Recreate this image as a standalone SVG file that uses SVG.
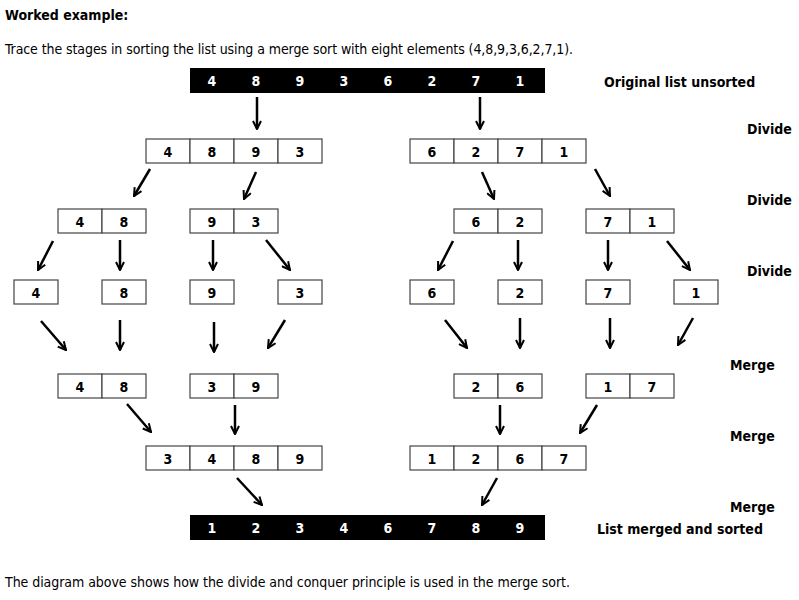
<svg xmlns="http://www.w3.org/2000/svg" width="799" height="600" viewBox="0 0 799 600">
<style>
text{font-family:"DejaVu Sans Condensed","DejaVu Sans",sans-serif;font-size:14px;fill:#000}
.b{font-weight:bold}
.n{font-weight:bold;text-anchor:middle}
.w{fill:#fff}
.c{fill:#fff;stroke:#444;stroke-width:1.2}
.a{stroke:#000;stroke-width:2.5;fill:none;marker-end:url(#h)}
</style>
<defs>
<marker id="h" viewBox="0 0 10 10" refX="9" refY="5" markerWidth="4" markerHeight="4" orient="auto" markerUnits="strokeWidth">
<polyline points="1,1 9,5 1,9" fill="none" stroke="#000" stroke-width="2"/>
</marker>
</defs>
<rect width="799" height="600" fill="#fff"/>
<text x="5" y="20" class="b">Worked example:</text>
<text x="5" y="54" textLength="568">Trace the stages in sorting the list using a merge sort with eight elements (4,8,9,3,6,2,7,1).</text>
<text x="5" y="587" textLength="565">The diagram above shows how the divide and conquer principle is used in the merge sort.</text>
<g id="labels" class="b">
<text x="604" y="87">Original list unsorted</text>
<text x="747" y="134">Divide</text>
<text x="747" y="205">Divide</text>
<text x="747" y="276">Divide</text>
<text x="730" y="370">Merge</text>
<text x="730" y="441">Merge</text>
<text x="730" y="512">Merge</text>
<text x="597" y="534">List merged and sorted</text>
</g>
<g id="unsorted">
<rect x="190" y="68" width="355" height="25" fill="#000"/>
<g class="n"><text class="n w" x="212" y="86">4</text><text class="n w" x="256" y="86">8</text><text class="n w" x="300" y="86">9</text><text class="n w" x="344" y="86">3</text><text class="n w" x="388" y="86">6</text><text class="n w" x="432" y="86">2</text><text class="n w" x="476" y="86">7</text><text class="n w" x="520" y="86">1</text></g>
</g>
<g id="sorted">
<rect x="190" y="515" width="355" height="25" fill="#000"/>
<text class="n w" x="212" y="533">1</text><text class="n w" x="256" y="533">2</text><text class="n w" x="300" y="533">3</text><text class="n w" x="344" y="533">4</text><text class="n w" x="388" y="533">6</text><text class="n w" x="432" y="533">7</text><text class="n w" x="476" y="533">8</text><text class="n w" x="520" y="533">9</text>
</g>
<g id="d1L"><rect class="c" x="146" y="139" width="44" height="24"/><rect class="c" x="190" y="139" width="44" height="24"/><rect class="c" x="234" y="139" width="44" height="24"/><rect class="c" x="278" y="139" width="44" height="24"/>
<text class="n" x="168" y="157">4</text><text class="n" x="212" y="157">8</text><text class="n" x="256" y="157">9</text><text class="n" x="300" y="157">3</text></g>
<g id="d1R"><rect class="c" x="410" y="139" width="44" height="24"/><rect class="c" x="454" y="139" width="44" height="24"/><rect class="c" x="498" y="139" width="44" height="24"/><rect class="c" x="542" y="139" width="44" height="24"/>
<text class="n" x="432" y="157">6</text><text class="n" x="476" y="157">2</text><text class="n" x="520" y="157">7</text><text class="n" x="564" y="157">1</text></g>
<g id="d2">
<rect class="c" x="58" y="209" width="44" height="24"/><rect class="c" x="102" y="209" width="44" height="24"/><text class="n" x="80" y="227">4</text><text class="n" x="124" y="227">8</text>
<rect class="c" x="190" y="209" width="44" height="24"/><rect class="c" x="234" y="209" width="44" height="24"/><text class="n" x="212" y="227">9</text><text class="n" x="256" y="227">3</text>
<rect class="c" x="454" y="209" width="44" height="24"/><rect class="c" x="498" y="209" width="44" height="24"/><text class="n" x="476" y="227">6</text><text class="n" x="520" y="227">2</text>
<rect class="c" x="586" y="209" width="44" height="24"/><rect class="c" x="630" y="209" width="44" height="24"/><text class="n" x="608" y="227">7</text><text class="n" x="652" y="227">1</text>
</g>
<g id="d3">
<rect class="c" x="14" y="280" width="44" height="24"/><text class="n" x="36" y="298">4</text>
<rect class="c" x="102" y="280" width="44" height="24"/><text class="n" x="124" y="298">8</text>
<rect class="c" x="190" y="280" width="44" height="24"/><text class="n" x="212" y="298">9</text>
<rect class="c" x="278" y="280" width="44" height="24"/><text class="n" x="300" y="298">3</text>
<rect class="c" x="410" y="280" width="44" height="24"/><text class="n" x="432" y="298">6</text>
<rect class="c" x="498" y="280" width="44" height="24"/><text class="n" x="520" y="298">2</text>
<rect class="c" x="586" y="280" width="44" height="24"/><text class="n" x="608" y="298">7</text>
<rect class="c" x="674" y="280" width="44" height="24"/><text class="n" x="696" y="298">1</text>
</g>
<g id="m1">
<rect class="c" x="58" y="374" width="44" height="24"/><rect class="c" x="102" y="374" width="44" height="24"/><text class="n" x="80" y="392">4</text><text class="n" x="124" y="392">8</text>
<rect class="c" x="190" y="374" width="44" height="24"/><rect class="c" x="234" y="374" width="44" height="24"/><text class="n" x="212" y="392">3</text><text class="n" x="256" y="392">9</text>
<rect class="c" x="454" y="374" width="44" height="24"/><rect class="c" x="498" y="374" width="44" height="24"/><text class="n" x="476" y="392">2</text><text class="n" x="520" y="392">6</text>
<rect class="c" x="586" y="374" width="44" height="24"/><rect class="c" x="630" y="374" width="44" height="24"/><text class="n" x="608" y="392">1</text><text class="n" x="652" y="392">7</text>
</g>
<g id="m2L"><rect class="c" x="146" y="446" width="44" height="24"/><rect class="c" x="190" y="446" width="44" height="24"/><rect class="c" x="234" y="446" width="44" height="24"/><rect class="c" x="278" y="446" width="44" height="24"/>
<text class="n" x="168" y="464">3</text><text class="n" x="212" y="464">4</text><text class="n" x="256" y="464">8</text><text class="n" x="300" y="464">9</text></g>
<g id="m2R"><rect class="c" x="410" y="446" width="44" height="24"/><rect class="c" x="454" y="446" width="44" height="24"/><rect class="c" x="498" y="446" width="44" height="24"/><rect class="c" x="542" y="446" width="44" height="24"/>
<text class="n" x="432" y="464">1</text><text class="n" x="476" y="464">2</text><text class="n" x="520" y="464">6</text><text class="n" x="564" y="464">7</text></g>
<g id="connectors">
<line class="a" x1="257" y1="97" x2="257" y2="129"/><line class="a" x1="480" y1="97" x2="480" y2="129"/>
<line class="a" x1="150" y1="169" x2="134" y2="196"/><line class="a" x1="256" y1="172" x2="244" y2="199"/>
<line class="a" x1="482" y1="172" x2="494" y2="199"/><line class="a" x1="595" y1="169" x2="610" y2="196"/>
<line class="a" x1="53" y1="241" x2="38" y2="270"/><line class="a" x1="120" y1="240" x2="120" y2="270"/>
<line class="a" x1="213" y1="240" x2="213" y2="270"/><line class="a" x1="266" y1="240" x2="290" y2="270"/>
<line class="a" x1="453" y1="241" x2="438" y2="270"/><line class="a" x1="518" y1="240" x2="518" y2="270"/>
<line class="a" x1="608" y1="240" x2="608" y2="270"/><line class="a" x1="667" y1="241" x2="690" y2="270"/>
<line class="a" x1="41" y1="321" x2="66" y2="350"/><line class="a" x1="120" y1="320" x2="120" y2="350"/>
<line class="a" x1="214" y1="322" x2="214" y2="352"/><line class="a" x1="285" y1="320" x2="268" y2="348"/>
<line class="a" x1="445" y1="320" x2="467" y2="348"/><line class="a" x1="520" y1="318" x2="520" y2="348"/>
<line class="a" x1="610" y1="318" x2="610" y2="348"/><line class="a" x1="693" y1="318" x2="678" y2="345"/>
<line class="a" x1="127" y1="404" x2="151" y2="432"/><line class="a" x1="235" y1="405" x2="235" y2="434"/>
<line class="a" x1="500" y1="405" x2="500" y2="434"/><line class="a" x1="597" y1="405" x2="580" y2="433"/>
<line class="a" x1="237" y1="478" x2="262" y2="505"/><line class="a" x1="497" y1="478" x2="482" y2="505"/>
</g>
</svg>
